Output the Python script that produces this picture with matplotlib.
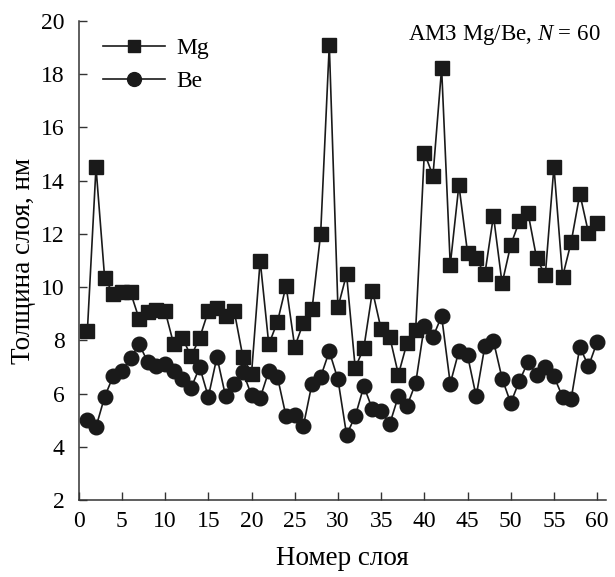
import matplotlib
matplotlib.use("Agg")
import matplotlib.pyplot as plt

plt.rcParams['font.family'] = ['Liberation Serif', 'DejaVu Serif']
plt.rcParams['mathtext.fontset'] = 'custom'
plt.rcParams['mathtext.rm'] = 'Liberation Serif'
plt.rcParams['mathtext.it'] = 'Liberation Serif:italic'

layer = list(range(1, 61))
mg = [8.35, 14.5, 10.35, 9.75, 9.8, 9.8, 8.8, 9.05, 9.15, 9.1,
      7.85, 8.1, 7.4, 8.1, 9.1, 9.2, 8.9, 9.1, 7.38, 6.75,
      11.0, 7.85, 8.7, 10.05, 7.76, 8.66, 9.17, 12.0, 19.1, 9.24,
      10.48, 6.97, 7.72, 9.86, 8.42, 8.13, 6.72, 7.91, 8.41, 15.05,
      14.18, 18.22, 10.83, 13.83, 11.3, 11.08, 10.48, 12.68, 10.14, 11.58,
      12.48, 12.79, 11.08, 10.45, 14.52, 10.39, 11.7, 13.5, 12.04, 12.4]
be = [5.03, 4.75, 5.88, 6.67, 6.84, 7.34, 7.85, 7.19, 7.04, 7.13,
      6.85, 6.57, 6.21, 7.0, 5.88, 7.38, 5.9, 6.38, 6.82, 5.94,
      5.84, 6.85, 6.63, 5.15, 5.21, 4.79, 6.38, 6.63, 7.59, 6.54,
      4.46, 5.15, 6.28, 5.41, 5.34, 4.87, 5.91, 5.54, 6.40, 8.55,
      8.13, 8.91, 6.38, 7.6, 7.44, 5.9, 7.78, 7.98, 6.57, 5.65,
      6.48, 7.19, 6.72, 7.0, 6.65, 5.88, 5.82, 7.76, 7.03, 7.94]

xticks = list(range(0, 61, 5))
yticks = list(range(2, 21, 2))

fig = plt.figure(figsize=(6.15, 5.77), dpi=100)
ax = fig.add_axes([0.128, 0.133, 0.857, 0.831])

ax.plot(layer, mg, '-s', color='#1a1a1a', lw=1.2, ms=9.5, label='Mg')
ax.plot(layer, be, '-o', color='#1a1a1a', lw=1.2, ms=10.5, label='Be')

ax.set_xlim(0, 61)
ax.set_ylim(2, 20)
ax.set_xticks(xticks)
ax.set_yticks(yticks)
ax.tick_params(direction='in', length=6, width=1, labelsize=17, color='#333333')
ax.tick_params(axis='x', pad=8)
ax.tick_params(axis='y', pad=10)
for s in ['top', 'right']:
    ax.spines[s].set_visible(False)
for s in ['left', 'bottom']:
    ax.spines[s].set_color('#333333')
    ax.spines[s].set_linewidth(1.1)

ax.set_xlabel('Номер слоя', fontsize=19.5, labelpad=10)
ax.set_ylabel('Толщина слоя, нм', fontsize=19.5, labelpad=4)

ax.legend(loc='upper left', frameon=False, fontsize=17, handlelength=2.6,
          borderaxespad=0.2, bbox_to_anchor=(0.02, 0.995), labelspacing=0.5,
          handletextpad=0.5, markerscale=0.95)

ax.text(0.99, 0.995, 'АМЗ Mg/Be, $N$ = 60', transform=ax.transAxes,
        ha='right', va='top', fontsize=16.5)

fig.savefig('out.png', dpi=100)
